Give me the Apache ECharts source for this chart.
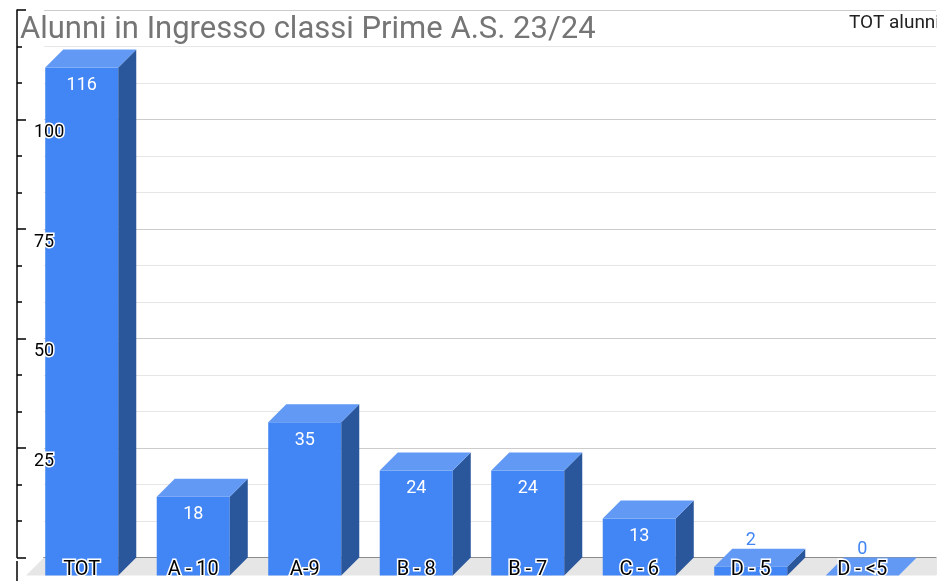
<!DOCTYPE html>
<html><head><meta charset="utf-8">
<script src="https://cdn.jsdelivr.net/npm/echarts@6/dist/echarts.min.js"></script>
<style>html,body{margin:0;padding:0;background:#fff}#c{width:937px;height:581px}</style>
</head><body><div id="c"></div><script>
const categories = ['TOT', 'A - 10', 'A-9', 'B - 8', 'B - 7', 'C - 6', 'D - 5', 'D - <5'];
const values = [116, 18, 35, 24, 24, 13, 2, 0];
const yMin = 0, yMax = 125, yStep = 25;
const titleText = 'Alunni in Ingresso classi Prime A.S. 23/24';
const legendText = 'TOT alunni';

const DEPTH = 18;
const FRONT = '#4285f4', TOP = '#6199f5', SIDE = '#2a569c';
const FONT = 'Roboto, "Liberation Sans", Arial, sans-serif';

const chart = echarts.init(document.getElementById('c'), null, {renderer: 'canvas'});

function renderFloor(params, api) {
  const cs = params.coordSys;
  const yb = cs.y + cs.height;
  return {
    type: 'polygon', silent: true,
    shape: {points: [[cs.x, yb], [cs.x + cs.width + DEPTH, yb], [cs.x + cs.width, yb + DEPTH], [cs.x - DEPTH, yb + DEPTH]]},
    style: {fill: '#e6e6e6'}
  };
}

function renderBar(params, api) {
  const idx = api.value(0), v = api.value(1);
  const top = api.coord([idx, v]);
  const base = api.coord([idx, 0]);
  const bw = api.size([1, 0])[0] * 0.655;
  const d = DEPTH;
  const fl = top[0] - bw / 2 - d, fr = top[0] + bw / 2 - d;
  const ft = top[1] + d, fb = base[1] + d;
  const children = [];
  if (fb - ft > 0.5) {
    children.push({type: 'rect', shape: {x: fl, y: ft, width: fr - fl, height: fb - ft}, style: {fill: FRONT}});
    children.push({type: 'polygon', shape: {points: [[fr, ft], [fr + d, ft - d], [fr + d, fb - d], [fr, fb]]}, style: {fill: SIDE}});
  }
  children.push({type: 'polygon', shape: {points: [[fl, ft], [fr, ft], [fr + d, ft - d], [fl + d, ft - d]]}, style: {fill: TOP}});
  const inside = (fb - ft) > 30;
  children.push({
    type: 'text',
    style: {
      text: String(v), x: (fl + fr) / 2, y: inside ? ft + 18 : ft - d - 8,
      align: 'center', verticalAlign: 'middle',
      fill: inside ? '#ffffff' : FRONT, font: '18px ' + FONT
    }
  });
  return {type: 'group', children: children};
}

chart.setOption({
  animation: false,
  backgroundColor: '#ffffff',
  title: {
    text: titleText, left: 20, top: 15, padding: 0,
    textStyle: {color: '#757575', fontSize: 31, fontWeight: 'normal', fontFamily: FONT,
      textBorderColor: '#fff', textBorderWidth: 3}
  },
  graphic: [
    {type: 'text', left: 849, top: 14, style: {text: legendText, fill: '#222222', font: '19px ' + FONT}},
    {type: 'line', shape: {x1: 17, y1: 561, x2: 17, y2: 581}, style: {stroke: '#000', lineWidth: 1.5}}
  ],
  grid: {left: 44, right: 1, top: 10, bottom: 19, containLabel: false},
  xAxis: [{
    type: 'category', data: categories,
    axisLine: {show: true, lineStyle: {color: '#333333', width: 1}},
    axisTick: {show: false}, axisLabel: {show: false}, splitLine: {show: false}
  }, {
    type: 'category', data: categories, position: 'bottom', z: 10,
    axisLine: {show: false}, axisTick: {show: false}, splitLine: {show: false},
    axisLabel: {
      interval: 0, margin: 2, align: 'center', padding: [0, 36, 0, 0],
      color: '#000', fontSize: 20, fontFamily: FONT,
      textBorderColor: '#fff', textBorderWidth: 3
    }
  }],
  yAxis: [{
    type: 'value', min: yMin, max: yMax, interval: yStep,
    axisLine: {show: false}, axisTick: {show: false}, axisLabel: {show: false},
    minorTick: {show: false, splitNumber: 3},
    splitLine: {show: true, lineStyle: {color: '#cccccc', width: 1}},
    minorSplitLine: {show: true, lineStyle: {color: '#e6e6e6', width: 1}}
  }, {
    type: 'value', min: yMin, max: yMax, interval: yStep, offset: 27, z: 10, position: 'left',
    axisLine: {show: true, lineStyle: {color: '#000', width: 1.5}},
    axisTick: {show: true, inside: true, length: 9, lineStyle: {color: '#000', width: 1.5}},
    minorTick: {show: true, splitNumber: 3, length: 5, lineStyle: {color: '#000', width: 1.5}},
    axisLabel: {
      inside: true, margin: 17, align: 'left', verticalAlign: 'top', lineHeight: 26,
      color: '#000', fontSize: 18, fontFamily: FONT,
      textBorderColor: '#fff', textBorderWidth: 3,
      formatter: function (val) { return (val === yMin || val === yMax) ? '' : String(val); }
    },
    splitLine: {show: false}, minorSplitLine: {show: false}
  }],
  series: [
    {type: 'custom', name: 'floor', renderItem: renderFloor, data: [0], z: 1, silent: true, clip: false},
    {type: 'custom', name: legendText, renderItem: renderBar, z: 3, clip: false,
      encode: {x: 0, y: 1},
      data: values.map(function (v, i) { return [i, v]; })}
  ]
});
</script></body></html>
